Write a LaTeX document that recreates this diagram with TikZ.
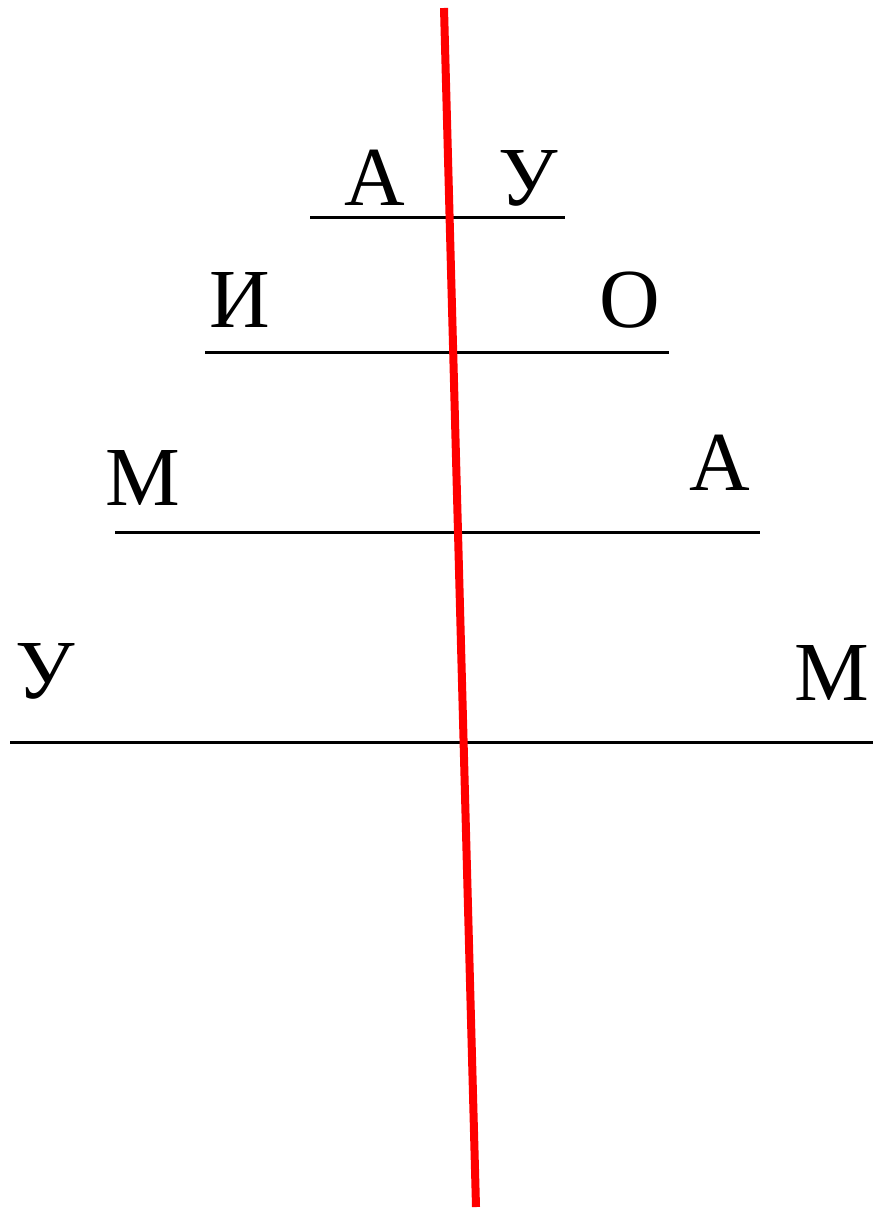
\documentclass[tikz,border=0pt]{standalone}
\usepackage{fontspec}
\setmainfont{Liberation Serif}
\usepackage{xcolor}
\usetikzlibrary{positioning}
\definecolor{AxisRed}{RGB}{255,0,0}
\tikzset{
	letter/.style={anchor=base, inner sep=0pt, font=\fontsize{84}{84}\selectfont},
	rung/.style={line width=3pt, black}
}

\begin{document}
\begin{tikzpicture}[x=1pt, y=-1pt]
			\useasboundingbox (0,0) rectangle (873,1209);
			% rungs
			\draw[rung] (310,217) -- (565,217);
			\draw[rung] (205,352) -- (669,352);
			\draw[rung] (115,532) -- (760,532);
			\draw[rung] (10,742) -- (873,742);
			% letters
			\node[letter] (a1) at (375,205) {А};
			\node[letter] (u1) at (528,205) {У};
			\node[letter] (i1) at (240,327) {И};
			\node[letter] (o1) at (630,327) {О};
			\node[letter] (m1) at (143,505) {М};
			\node[letter] (a2) at (720,490) {А};
			\node[letter] (u2) at (45,698) {У};
			\node[letter] (m2) at (832,700) {М};
			% axis
			\coordinate (top) at (444,8);
			\coordinate (bot) at (476,1207);
			\draw[line width=8pt, AxisRed] (top) -- (bot);
		\end{tikzpicture}
\end{document}
